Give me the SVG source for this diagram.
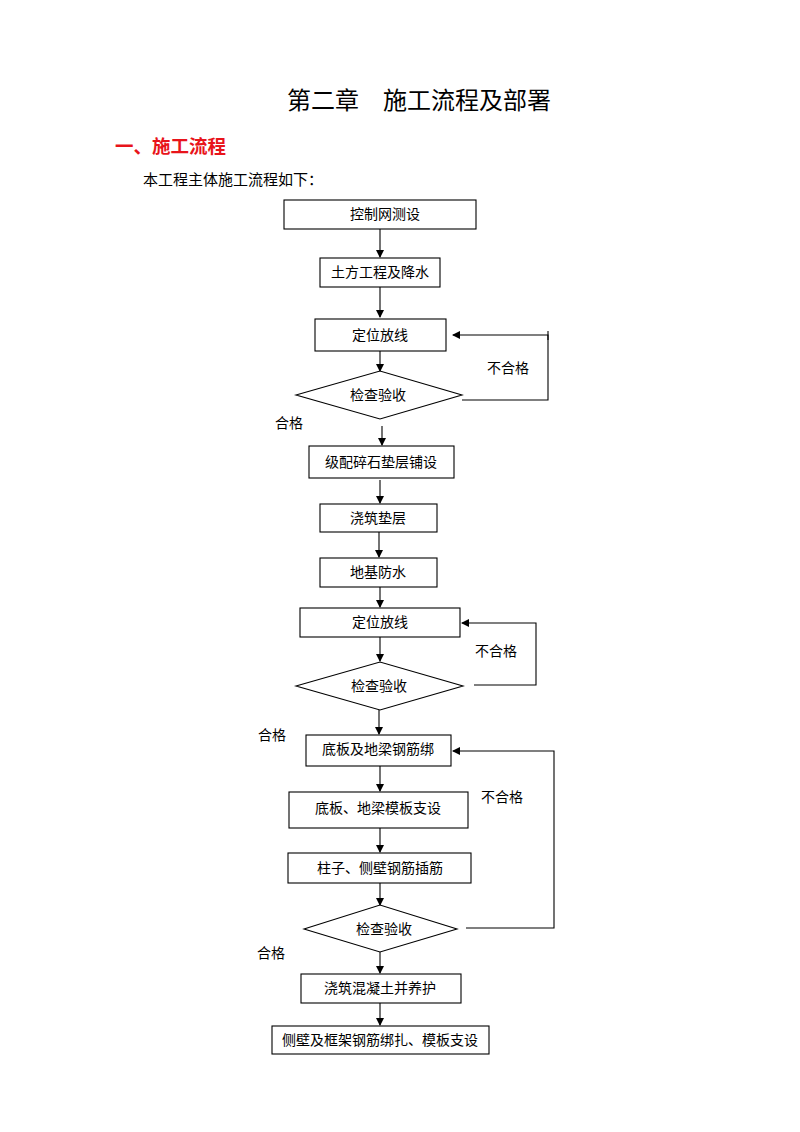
<svg xmlns="http://www.w3.org/2000/svg" width="800" height="1132" viewBox="0 0 800 1132">
<style>
text{font-family:"Liberation Serif","Noto Sans CJK SC",serif;fill:#000}
.n rect,.n polygon{fill:#fff;stroke:#000;stroke-width:1.1}
.n text{font-size:14px;text-anchor:middle;dominant-baseline:central}
.c line,.c polyline{fill:none;stroke:#000;stroke-width:1.1}
.lbl{font-size:14px}
</style>
<defs>
<marker id="ah" markerWidth="8" markerHeight="8" refX="7" refY="4" orient="auto" markerUnits="userSpaceOnUse">
<path d="M0,0 L8,4 L0,8 z" fill="#000"/>
</marker>
</defs>
<rect width="800" height="1132" fill="#fff"/>
<text x="419" y="101" font-size="24" text-anchor="middle" dominant-baseline="central">第二章　施工流程及部署</text>
<text x="115" y="147" font-size="18.5" font-weight="bold" style="fill:#e8141b" dominant-baseline="central">一、施工流程</text>
<text x="143" y="180" font-size="15" dominant-baseline="central">本工程主体施工流程如下：</text>

<g class="c">
<line x1="380" y1="229" x2="380" y2="257" marker-end="url(#ah)"/>
<line x1="380" y1="287" x2="380" y2="317" marker-end="url(#ah)"/>
<line x1="380" y1="351" x2="380" y2="371" marker-end="url(#ah)"/>
<polyline points="462,400 548,400 548,335 453,335" marker-end="url(#ah)"/>
<line x1="548" y1="331" x2="548" y2="340"/>
<line x1="382" y1="426" x2="382" y2="445" marker-end="url(#ah)"/>
<line x1="380" y1="480" x2="380" y2="503" marker-end="url(#ah)"/>
<line x1="379" y1="532" x2="379" y2="557" marker-end="url(#ah)"/>
<line x1="380" y1="587" x2="380" y2="607" marker-end="url(#ah)"/>
<line x1="380" y1="637" x2="380" y2="661" marker-end="url(#ah)"/>
<polyline points="474,685 536,685 536,623 462,623" marker-end="url(#ah)"/>
<line x1="379" y1="710" x2="379" y2="734" marker-end="url(#ah)"/>
<polyline points="466,928 554,928 554,751 453,751" marker-end="url(#ah)"/>
<line x1="380" y1="766" x2="380" y2="791" marker-end="url(#ah)"/>
<line x1="380" y1="828" x2="380" y2="852" marker-end="url(#ah)"/>
<line x1="380" y1="883" x2="380" y2="905" marker-end="url(#ah)"/>
<line x1="380" y1="952" x2="380" y2="973" marker-end="url(#ah)"/>
<line x1="380" y1="1003" x2="380" y2="1025" marker-end="url(#ah)"/>
</g>

<g id="labels">
<text class="lbl" x="487" y="368" dominant-baseline="central">不合格</text>
<text class="lbl" x="275" y="423" dominant-baseline="central">合格</text>
<text class="lbl" x="475" y="651" dominant-baseline="central">不合格</text>
<text class="lbl" x="258" y="735" dominant-baseline="central">合格</text>
<text class="lbl" x="481" y="797" dominant-baseline="central">不合格</text>
<text class="lbl" x="257" y="953" dominant-baseline="central">合格</text>
</g>

<g id="n1" class="n"><rect x="284" y="200" width="192" height="29"/><text x="385" y="214.5">控制网测设</text></g>
<g id="n2" class="n"><rect x="320" y="258" width="120" height="29"/><text x="380" y="272.5">土方工程及降水</text></g>
<g id="n3" class="n"><rect x="315" y="319" width="131" height="32"/><text x="380" y="335">定位放线</text></g>
<g id="n4" class="n"><polygon points="296,395 380,371 462,395 380,419"/><text x="378" y="395">检查验收</text></g>
<g id="n5" class="n"><rect x="309" y="446" width="145" height="32"/><text x="381" y="462">级配碎石垫层铺设</text></g>
<g id="n6" class="n"><rect x="320" y="504" width="117" height="28"/><text x="378" y="518">浇筑垫层</text></g>
<g id="n7" class="n"><rect x="320" y="558" width="117" height="29"/><text x="378" y="572.5">地基防水</text></g>
<g id="n8" class="n"><rect x="300" y="608" width="160" height="29"/><text x="380" y="622.5">定位放线</text></g>
<g id="n9" class="n"><polygon points="296,686 380,662 463,686 380,710"/><text x="379" y="686">检查验收</text></g>
<g id="n10" class="n"><rect x="306" y="735" width="145" height="31"/><text x="378" y="749">底板及地梁钢筋绑</text></g>
<g id="n11" class="n"><rect x="289" y="792" width="179" height="36"/><text x="378" y="808">底板、地梁模板支设</text></g>
<g id="n12" class="n"><rect x="288" y="853" width="183" height="30"/><text x="380" y="868">柱子、侧壁钢筋插筋</text></g>
<g id="n13" class="n"><polygon points="304,929 380,905 457,929 380,952"/><text x="384" y="929">检查验收</text></g>
<g id="n14" class="n"><rect x="301" y="974" width="160" height="29"/><text x="380" y="988.5">浇筑混凝土并养护</text></g>
<g id="n15" class="n"><rect x="272" y="1026" width="217" height="28"/><text x="380" y="1040">侧壁及框架钢筋绑扎、模板支设</text></g>
</svg>
